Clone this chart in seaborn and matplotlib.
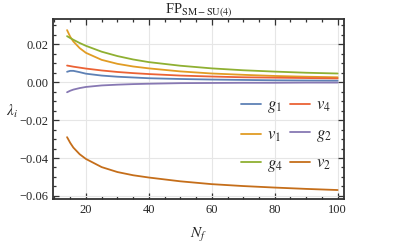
import numpy as np
import pandas as pd
import matplotlib
matplotlib.use('Agg')
import matplotlib.pyplot as plt
import seaborn as sns
from matplotlib.ticker import MultipleLocator

# Data
Nf = [14, 15, 16, 18, 20, 25, 30, 35, 40, 50, 60, 70, 80, 90, 100]
g1 = [0.0055, 0.0060, 0.0060, 0.0053, 0.0045, 0.0035, 0.0029, 0.0025, 0.0021,
      0.0017, 0.0014, 0.0012, 0.0010, 0.0009, 0.0008]
v1 = [0.0275, 0.0240, 0.0215, 0.0180, 0.0155, 0.0118, 0.0097, 0.0083, 0.0073,
      0.0057, 0.0046, 0.0039, 0.0033, 0.0029, 0.0026]
g4 = [0.0243, 0.0233, 0.0224, 0.0207, 0.0192, 0.0161, 0.0138, 0.0120, 0.0106,
      0.0087, 0.0073, 0.0063, 0.0056, 0.0050, 0.0046]
v4 = [0.0088, 0.0085, 0.0082, 0.0077, 0.0072, 0.0062, 0.0054, 0.0048, 0.0043,
      0.0035, 0.0030, 0.0026, 0.0024, 0.0022, 0.0020]
g2 = [-0.0053, -0.0045, -0.0039, -0.0031, -0.0025, -0.0017, -0.0013, -0.0010,
      -0.0008, -0.0005, -0.0004, -0.0003, -0.0003, -0.0002, -0.0002]
v2 = [-0.0290, -0.0320, -0.0345, -0.0380, -0.0405, -0.0448, -0.0474, -0.0491,
      -0.0503, -0.0523, -0.0538, -0.0548, -0.0556, -0.0563, -0.0569]

names = ['$g_1$', '$v_1$', '$g_4$', '$v_4$', '$g_2$', '$v_2$']
series = [g1, v1, g4, v4, g2, v2]
colors = ['#5E81B5', '#E19C24', '#8FB032', '#EB6235', '#8778B3', '#C56E1A']

df = pd.concat([pd.DataFrame({'Nf': Nf, 'lam': s, 'coupling': n})
                for n, s in zip(names, series)], ignore_index=True)

sns.set_style('ticks')
plt.rcParams['font.family'] = ['Liberation Serif', 'DejaVu Serif']
plt.rcParams['mathtext.fontset'] = 'stix'

fig = plt.figure(figsize=(4.07, 2.45), dpi=100)
ax = fig.add_axes([0.130, 0.188, 0.715, 0.734])

sns.lineplot(data=df, x='Nf', y='lam', hue='coupling', hue_order=names,
             palette=colors, linewidth=1.3, ax=ax)

ax.set_xlim(9.5, 102)
ax.set_ylim(-0.0616, 0.0333)
ax.xaxis.set_major_locator(MultipleLocator(20))
ax.xaxis.set_minor_locator(MultipleLocator(5))
ax.yaxis.set_major_locator(MultipleLocator(0.02))
ax.yaxis.set_minor_locator(MultipleLocator(0.005))
ax.yaxis.set_major_formatter(plt.FuncFormatter(
    lambda v, p: ('\u2212' if v < -1e-9 else '') + '%.2f' % abs(v)))
ax.grid(True, which='major', color='#e6e6e6', linewidth=0.8)
ax.tick_params(which='both', direction='in', top=True, right=True,
               labelsize=9, width=0.9, color='#333333')
ax.tick_params(which='major', length=4)
ax.tick_params(which='minor', length=2)
for s in ax.spines.values():
    s.set_linewidth(1.3)
    s.set_color('#333333')

ax.set_title(r'FP$_{\mathrm{SM-SU(4)}}$', fontsize=10.5, pad=3)
ax.set_xlabel('$N_f$', fontsize=11, labelpad=7)
ax.set_ylabel(r'$\lambda_i$', fontsize=11, rotation=0)
ax.yaxis.set_label_coords(-0.14, 0.44)

ax.legend(loc='upper left', bbox_to_anchor=(0.646, 0.565), ncol=2, frameon=False,
          fontsize=12, handlelength=1.2, columnspacing=0.45, labelspacing=0.72,
          handletextpad=0.36, borderpad=0, borderaxespad=0)

fig.savefig('out.png', dpi=100)
